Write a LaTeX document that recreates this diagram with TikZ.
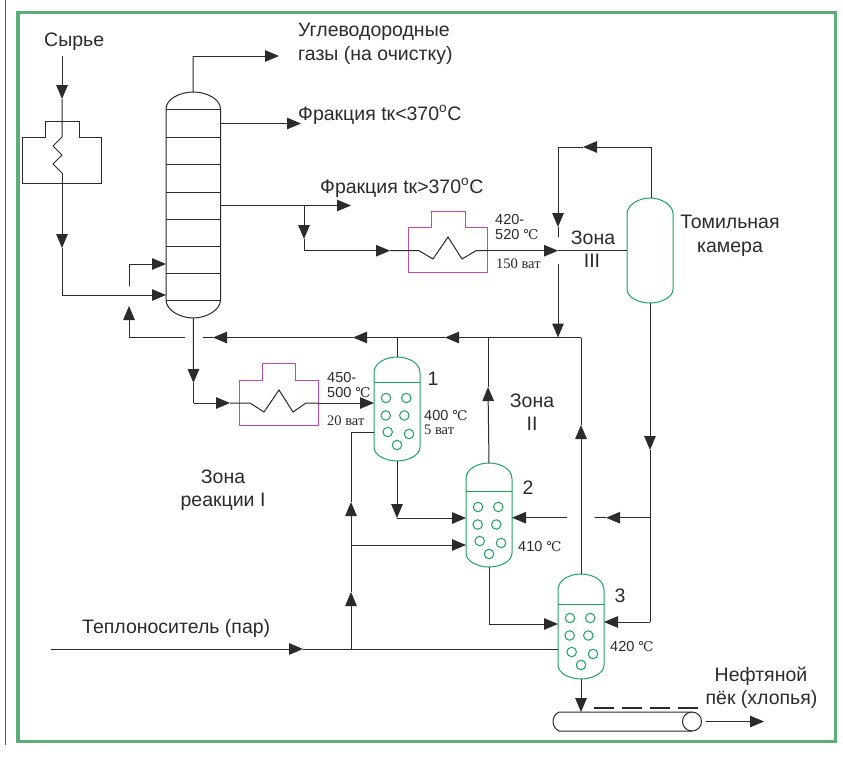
\documentclass[tikz,border=0pt]{standalone}
\usepackage{fontspec}
\setmainfont{Liberation Sans}
\newfontfamily\serifc{Liberation Serif}
\newfontfamily\degc{DejaVu Serif}
\usetikzlibrary{arrows.meta,calc}
\definecolor{linec}{HTML}{2B2B2B}
\definecolor{framec}{HTML}{5BAE78}
\definecolor{vesc}{HTML}{1EA35F}
\definecolor{magc}{HTML}{C24BA6}
\tikzset{
  ah/.tip={Triangle[length=14pt,width=11.5pt]},
  flow/.style={draw=linec,line width=1pt},
  toarrow/.style={flow,-{ah}},
  txt/.style={font=\fontsize{19.5}{22}\selectfont,text=linec,inner sep=0pt,anchor=base west},
  txtc/.style={txt,anchor=base},
  small/.style={font=\fontsize{14.5}{16}\selectfont,text=linec,inner sep=0pt,anchor=base west},
  srf/.style={font=\serifc\fontsize{14.5}{16}\selectfont,text=linec,inner sep=0pt,anchor=base west},
  holder/.style={rectangle,inner sep=0pt,outer sep=0pt,draw=none},
  bubble/.style={circle,draw=vesc,line width=1pt,minimum size=9.5pt,inner sep=0pt},
  furnace/.style={draw=magc,line width=1pt},
}
\newcommand{\cel}{{\degc\fontsize{13.5}{16}\selectfont ℃}}
% name, cx, top, bottom, line y offset, bubble y offset
\newcommand{\reactor}[6]{%
  \node[holder,minimum width=46pt,minimum height=#4pt-#3pt] (#1) at (#2,{(#3+#4)/2}) {};
  \draw[draw=vesc,line width=1pt] (#2-23,#3+16) .. controls (#2-23,#3+5) and (#2-10,#3) .. (#2,#3)
     .. controls (#2+10,#3) and (#2+23,#3+5) .. (#2+23,#3+16) -- (#2+23,#4-14)
     .. controls (#2+23,#4-5) and (#2+10,#4) .. (#2,#4)
     .. controls (#2-10,#4) and (#2-23,#4-5) .. (#2-23,#4-14) -- cycle;
  \draw[draw=vesc,line width=1pt] (#2-23,#3+#5) -- (#2+23,#3+#5);
  \foreach \dx/\dy [count=\i] in {-11/41,9.3/41,-11.3/58.5,7.3/58.5,-9.3/75,12/77,0/88}
    \node[bubble] (#1b\i) at (#2+\dx,#3+\dy+#6) {};
}
\begin{document}
\begin{tikzpicture}[x=1pt,y=-1pt]
\useasboundingbox (0,0) rectangle (843,758);
\fill[white] (0,0) rectangle (843,758);
\draw[draw=gray!70!black,line width=0.8pt] (5.5,0) -- (5.5,745);
\draw[draw=framec,line width=3.4pt] (18,12.5) rectangle (835.5,741.5);

% ---- named points
\foreach \n/\x/\y in {
 gasc/193/56,gast/279/56,frAe/301/123.5,frBe/351/205.5,frBj/304/205.5,
 frBa/304/239,frBc/304/250.7,
 feedS/62/56,feedA/62/99,coilT/62/137,z1/53/146,z2/62/155,z3/53/164,coilB/62/173,feedB/62/248,feedC/62/295,
 recT/129/306,recC/129/337.5,recE/185/337.5,rec2S/129/286,rec2C/129/264,
 topA/581/337.5,topB/558/337.5,topC/488/337.5,topD/445/337.5,topE/397/337.5,topF/353/337.5,topG/213/337.5,topH/203/337.5,
 botA/193.5/383,botB/193.5/403}
 {\coordinate (\n) at (\x,\y);}
\foreach \n/\x/\y in {
 frBt/390/250.7,fA/408/250.7,fA1/419/250.7,fA2/433/259,fA3/448/237,fA4/462/259,fA5/476/250.7,fA6/487/250.7,fAt/558/250.7,
 loopA/651/147,loopB/583/147,loopC/558/147,loopD/558/227,loopE/558/237,dnA/558/264,dnB/558/337.5,
 fB/239/403,fB1/250/403,fB2/264/412,fB3/279/390,fB4/293/412,fB5/306/403,fB6/318/403,
 tomE/627/250.7,
 vA/351/432,vAin/374/432,vB/351/502,vC/351/545,vD/351/592,vE/351/649,vCt/466/545,
 aD/397/518,aDt/466/518,
 tomB/650/450,tomC/650/517.7,tomD/650/622,
 l2A/606/517.7,l2B/595/517.7,l2C/567/517.7,l2D/512/517.7,
 in3t/604/622,up2/488/387,up3/581/425,
 b2A/489/624,b2t/558/624,heatS/51/649,heatT/303/649,heatE/558/649,
 r1in/374/403,convT/581/712,oA/706/721.5,oB/764/721.5,dA/594/708,dB/698/708,
 in1t/166/295,in2t/166/264,fBt/230/403}
 {\coordinate (\n) at (\x,\y);}

% ---- column
\node[holder,minimum width=54.5pt,minimum height=226pt] (col) at (193.25,205) {};
\draw[draw=linec,line width=1pt] (166,109) .. controls (166,99) and (180,92) .. (193.25,92)
  .. controls (206.5,92) and (220.5,99) .. (220.5,109) -- (220.5,300)
  .. controls (220.5,310) and (206.5,318) .. (193.25,318)
  .. controls (180,318) and (166,310) .. (166,300) -- cycle;
\foreach \yy in {109,137,164,192,219,246,273,300}
  \draw[draw=linec,line width=1pt] (166,\yy) -- (220.5,\yy);

% ---- vessels
\reactor{r1}{397}{357}{461}{25}{0}
\reactor{r2}{489}{463}{567}{28}{3}
\reactor{r3}{581}{574}{679}{30}{3}
\node[holder,minimum width=46pt,minimum height=105pt] (tom) at (650,250.5) {};
\draw[draw=vesc,line width=1pt] (627,214) .. controls (627,204) and (640,198) .. (650,198)
  .. controls (660,198) and (673,204) .. (673,214) -- (673,289)
  .. controls (673,298) and (660,303) .. (650,303)
  .. controls (640,303) and (627,298) .. (627,289) -- cycle;

% ---- black T box and coil
\node[holder,minimum width=79pt,minimum height=62pt] (box0) at (62,152) {};
\draw[draw=linec,line width=1pt] (22.5,137) -- (45,137) -- (45,121) -- (79,121) -- (79,137) -- (101.5,137) -- (101.5,183) -- (22.5,183) -- cycle;
% ---- magenta furnaces
\node[holder,minimum width=79pt,minimum height=61pt] (fur1) at (447.5,241.5) {};
\draw[furnace] (408,227) -- (431,227) -- (431,211) -- (465,211) -- (465,227) -- (487,227) -- (487,272) -- (408,272) -- cycle;
\node[holder,minimum width=79pt,minimum height=62pt] (fur2) at (278.5,394) {};
\draw[furnace] (239,380) -- (262,380) -- (262,363) -- (295,363) -- (295,380) -- (318,380) -- (318,425) -- (239,425) -- cycle;

% ---- conveyor
\node[holder,minimum width=149pt,minimum height=19pt] (conv) at (627.5,721.5) {};
\node[circle,draw=linec,line width=1pt,minimum size=19pt,inner sep=0pt] (drum) at (692,721.5) {};
\draw[draw=linec,line width=1pt] (692,712) -- (559,712) .. controls (551,716) and (551,727) .. (559,731) -- (692,731);
\draw[draw=linec,line width=2pt,dash pattern=on 20pt off 8pt] (dA) -- (dB);

% ---- connectors
\draw[flow] (col.north) -- (gasc);
\draw[toarrow] (gasc) -- (gast);
\draw[toarrow] (col.east |- frAe) -- (frAe);
\draw[toarrow] (col.east |- frBe) -- (frBe);
\draw[toarrow] (frBj) -- (frBa);
\draw[flow] (frBa) -- (frBc);
\draw[toarrow] (frBc) -- (frBt);
\draw[flow] (frBt) -- (fA1) -- (fA2) -- (fA3) -- (fA4) -- (fA5) -- (fA6);
\draw[toarrow] (fA6) -- (fAt);
\draw[flow] (fAt) -- (tomE);
\draw[flow] (tom.north -| loopA) -- (loopA);
\draw[toarrow] (loopA) -- (loopB);
\draw[flow] (loopB) -- (loopC);
\draw[toarrow] (loopC) -- (loopD);
\draw[flow] (loopD) -- (loopE);
\draw[toarrow] (dnA) -- (dnB);

\draw[toarrow] (feedS) -- (feedA);
\draw[flow] (feedA) -- (coilT) -- (z1) -- (z2) -- (z3) -- (coilB);
\draw[toarrow] (coilB) -- (feedB);
\draw[flow] (feedB) -- (feedC);
\draw[toarrow] (feedC) -- (in1t);
\draw[toarrow] (rec2S) -- (rec2C) -- (in2t);
\draw[toarrow] (recE) -- (recC) -- (recT);

\draw[toarrow] (topA) -- (topD);
\draw[toarrow] (topD) -- (topF);
\draw[toarrow] (topF) -- (topG);
\draw[flow] (topG) -- (topH);

\draw[toarrow] (col.south) -- (botA);
\draw[flow] (botA) -- (botB);
\draw[toarrow] (botB) -- (fBt);
\draw[flow] (fBt) -- (fB1) -- (fB2) -- (fB3) -- (fB4) -- (fB5) -- (fB6);
\draw[toarrow] (fB6) -- (r1in);

\draw[flow] (r1.north) -- (topE);
\draw[flow] (vAin) -- (vA) -- (vB);
\draw[toarrow] (vC) -- (vB);
\draw[toarrow] (vE) -- (vD);
\draw[flow] (vD) -- (vC);
\draw[toarrow] (vC) -- (vCt);
\draw[toarrow] (r1.south) -- (aD);
\draw[toarrow] (aD) -- (aDt);

\draw[toarrow] (r2.north) -- (up2);
\draw[flow] (up2) -- (topC);
\draw[toarrow] (r3.north) -- (up3);
\draw[flow] (up3) -- (topA);

\draw[toarrow] (tom.south) -- (tomB);
\draw[flow] (tomB) -- (tomD);
\draw[toarrow] (tomD) -- (in3t);
\draw[toarrow] (tomC) -- (l2A);
\draw[flow] (l2A) -- (l2B);
\draw[toarrow] (l2C) -- (l2D);

\draw[flow] (r2.south -| b2A) -- (b2A);
\draw[toarrow] (b2A) -- (b2t);
\draw[toarrow] (heatS) -- (heatT);
\draw[flow] (heatT) -- (heatE);
\draw[toarrow] (r3.south) -- (convT);
\draw[toarrow] (oA) -- (oB);

% ---- labels
\node[txt] (t1) at (44,46) {Сырье};
\node[txt] (t2) at (298,36) {Углеводородные};
\node[txt] (t3) at (298,60) {газы (на очистку)};
\node[txt] (t4) at (298,120) {Фракция tк<370\textsuperscript{o}C};
\node[txt] (t5) at (320,193) {Фракция tк>370\textsuperscript{o}C};
\node[small] (t6) at (495,224) {420-};
\node[small] (t7) at (495,239) {520 \cel};
\node[srf] (t8) at (496,268) {150 ват};
\node[txtc] (t9) at (593,244) {Зона};
\node[txtc] (t10) at (592,267) {III};
\node[txtc] (t11) at (730,228) {Томильная};
\node[txtc] (t12) at (730,252) {камера};
\node[small] (t13) at (327,382) {450-};
\node[small] (t14) at (327,397) {500 \cel};
\node[srf] (t15) at (327,425) {20 ват};
\node[small] (t16) at (424,420) {400 \cel};
\node[srf] (t17) at (424,434) {5 ват};
\node[txtc] (t18) at (433,385) {1};
\node[txtc] (t19) at (528,494) {2};
\node[txtc] (t20) at (620,602) {3};
\node[small] (t21) at (518,551) {410 \cel};
\node[small] (t22) at (610,651) {420 \cel};
\node[txtc] (t23) at (532,407) {Зона};
\node[txtc] (t24) at (532,430) {II};
\node[txtc] (t25) at (223,483) {Зона};
\node[txtc] (t26) at (223,506) {реакции I};
\node[txt] (t27) at (82,633) {Теплоноситель (пар)};
\node[txtc] (t28) at (761,681) {Нефтяной};
\node[txtc] (t29) at (761.5,704) {пёк (хлопья)};
\end{tikzpicture}
\end{document}
